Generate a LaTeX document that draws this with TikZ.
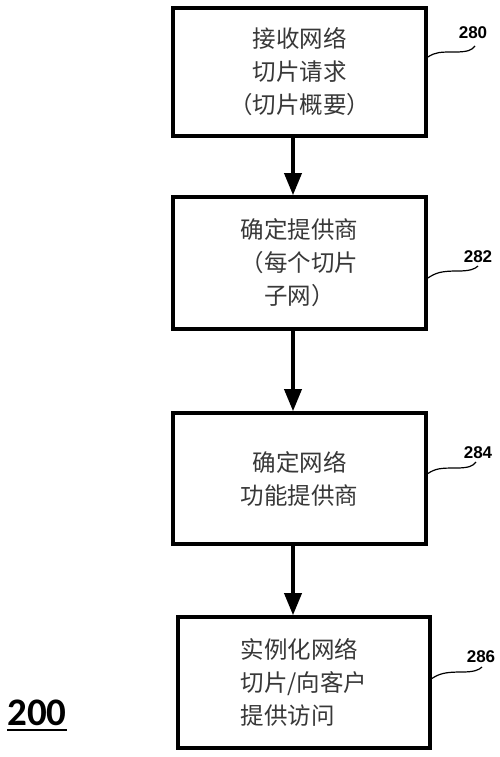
\documentclass[tikz,border=0pt]{standalone}
\usepackage{fontspec}
\setmainfont{Liberation Sans}
\newfontfamily\cjk{Noto Sans CJK SC}
\newfontfamily\calib{Carlito}
\usetikzlibrary{arrows.meta}
\definecolor{txtgray}{gray}{0.22}
\tikzset{
  stepbox/.style={draw=black, line width=3.6pt, fill=white, inner sep=0pt,
    font=\cjk\fontsize{23.5}{33}\selectfont, text=txtgray},
  flowarrow/.style={line width=3.6pt, -{Triangle[length=22pt,width=17pt]}},
  leader/.style={line width=1.2pt},
  reflabel/.style={font=\bfseries\fontsize{17}{17}\selectfont, inner sep=0pt}
}
\begin{document}
\begin{tikzpicture}[x=1pt,y=-1pt]
\useasboundingbox (0,0) rectangle (500,757);
\node[stepbox, minimum width=253pt, minimum height=128pt, align=center] (b1) at (299.5,72) {接收网络\\切片请求\\（切片概要）};
\node[stepbox, minimum width=253pt, minimum height=132pt, align=center] (b2) at (299.5,263) {确定提供商\\（每个切片\\子网）};
\node[stepbox, minimum width=253pt, minimum height=131pt, align=center] (b3) at (299.5,478.5) {确定网络\\功能提供商};
\node[stepbox, minimum width=252pt, minimum height=131pt, align=left] (b4) at (304,682.5) {实例化网络\\切片/向客户\\提供访问};
\draw[flowarrow] (b1.south -| 293,0) -- (b2.north -| 293,0);
\draw[flowarrow] (b2.south -| 293,0) -- (b3.north -| 293,0);
\draw[flowarrow] (b3.south -| 293,0) -- (b4.north -| 293,0);
\node[reflabel] (l280) at (473,33) {280};
\node[reflabel] (l282) at (478,257) {282};
\node[reflabel] (l284) at (478,453) {284};
\node[reflabel] (l286) at (481,657) {286};
\coordinate (e280) at (475,46);
\coordinate (e282) at (478,266);
\coordinate (e284) at (476,462);
\coordinate (e286) at (482,667);
\draw[leader] ([yshift=15pt]b1.east) .. controls +(8,-5) and (440,52) .. (455,52) .. controls (468,52) and (472,50) .. (e280);
\draw[leader] ([yshift=-15pt]b2.east) .. controls +(8,-5) and (440,271) .. (458,271) .. controls (470,271) and (475,269) .. (e282);
\draw[leader] ([yshift=5pt]b3.east) .. controls +(8,-5) and (440,468) .. (456,468) .. controls (469,468) and (473,466) .. (e284);
\draw[leader] ([yshift=4pt]b4.east) .. controls +(8,-5) and (445,672) .. (462,672) .. controls (474,672) and (479,670) .. (e286);
\node[font=\calib\bfseries\fontsize{39}{39}\selectfont, inner sep=0pt] (fig) at (37,713) {200};
\draw[line width=2.4pt] (fig.south west |- 0,730) -- (fig.south east |- 0,730);
\end{tikzpicture}
\end{document}
